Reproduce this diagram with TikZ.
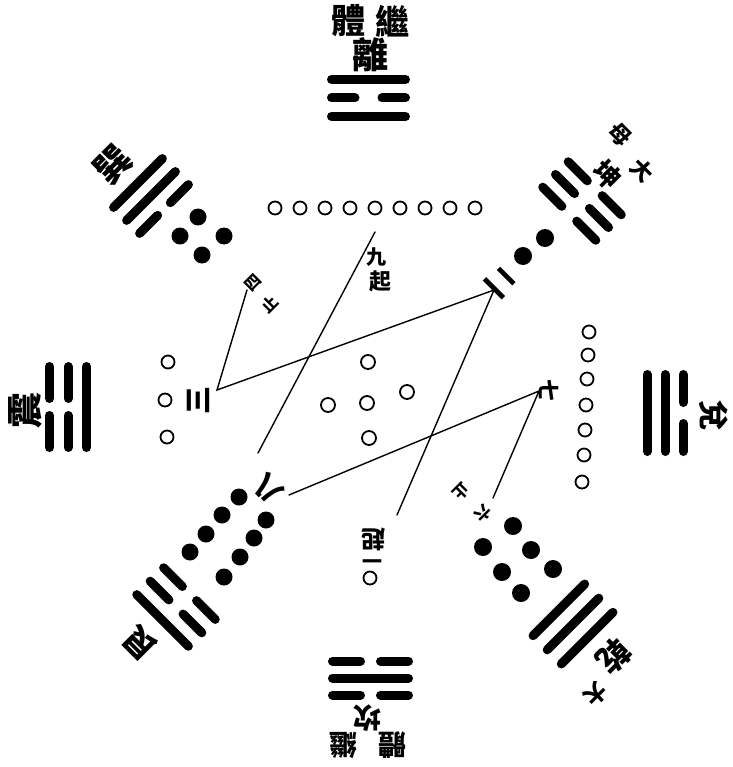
\documentclass[tikz,border=0pt]{standalone}
\usepackage{fontspec}
\newfontfamily\cjk{Noto Sans CJK TC}
\tikzset{
  bar/.style={line width=9pt, line cap=round},
  yin/.style={fill=black},
  yang/.style={draw=black, line width=1.8pt, fill=white},
  route/.style={line width=1.4pt, line cap=round},
  lab/.style={font=\cjk\bfseries\fontsize{#1}{#1}\selectfont, inner sep=0pt},
}
\newcommand\gualine[4]{%
  \ifnum#4=1
    \draw[bar] (-#2+4.5,#1) -- (#2-4.5,#1);
  \else
    \draw[bar] (-#2+4.5,#1) -- (-#3/2-4.5,#1);
    \draw[bar] (#3/2+4.5,#1) -- (#2-4.5,#1);
  \fi}
\newcommand\gua[9]{%
  \begin{scope}[shift={(#1,#2)},rotate=#3]
    \gualine{#4}{#5}{#6}{#7}
    \gualine{0}{#5}{#6}{#8}
    \gualine{-#4}{#5}{#6}{#9}
  \end{scope}}
\begin{document}
\begin{tikzpicture}[x=1pt,y=-1pt]
\useasboundingbox (0,0) rectangle (732,767);
% ---- trigrams (inner, middle, outer; 1 = solid, 0 = broken)
\gua{368.5}{98}{0}{18.5}{41.5}{18}{1}{0}{1}     % li
\gua{582}{201}{-45}{18}{42}{12}{0}{0}{0}        % kun
\gua{665}{413}{-90}{18}{43}{12}{1}{1}{0}        % dui
\gua{573}{624}{-135}{20}{41}{10}{1}{1}{1}       % qian
\gua{370.5}{678}{180}{17}{42.5}{11}{0}{1}{0}    % kan
\gua{176}{607}{135}{19}{41}{11}{0}{0}{1}        % gen
\gua{68}{407}{90}{18.5}{45}{8}{1}{0}{0}         % zhen
\gua{151}{196}{45}{18.4}{39}{9}{0}{1}{1}        % xun
% ---- black dots
\foreach \p in {(545,238),(523,256)} \fill[yin] \p circle (9pt);
\foreach \p in {(198,217),(180,236),(224,236),(202,255)} \fill[yin] \p circle (8.5pt);
\foreach \p in {(239,497),(222,515),(206,534),(190,552),(266,520),(254,538),(240,557),(224,577)} \fill[yin] \p circle (8.5pt);
\foreach \p in {(513,526),(483,547),(531,550),(502,572),(553,569),(521,593)} \fill[yin] \p circle (9pt);
% ---- white circles
\foreach \i in {0,...,8} \draw[yang] (275+25*\i,208) circle (6.5pt);
\foreach \p in {(168,362),(165,400),(167,437)} \draw[yang] \p circle (6.5pt);
\foreach \p in {(589,332),(588,355),(587,379),(586,405),(585,430),(584,455),(582,482)} \draw[yang] \p circle (6.5pt);
\foreach \p in {(368,362),(328,405),(367,403),(407,392),(369,438)} \draw[yang] \p circle (7pt);
\draw[yang] (370,578) circle (6.5pt);
% ---- trigram labels
\node[lab=34] (ti) at (348,21) {體};
\node[lab=34] (ji) at (392,21) {繼};
\node[lab=36] (li) at (370,55) {離};
\node[lab=28,rotate=180] (kan) at (367,718) {坎};
\node[lab=28,rotate=180] (jib) at (343,745) {繼};
\node[lab=28,rotate=180] (tib) at (392,745) {體};
\node[lab=36,rotate=90] (zhen) at (25,410) {震};
\node[lab=30,rotate=-90] (dui) at (714,415) {兌};
\node[lab=36,rotate=45] (xun) at (113,165) {巽};
\node[lab=32,rotate=135] (gen) at (140,643) {艮};
\node[lab=22,rotate=-45] (mu) at (620,135) {母};
\node[lab=27,rotate=-45] (kun) at (607,175) {坤};
\node[lab=22,rotate=-45] (dak) at (642,170) {大};
\node[lab=32,rotate=-135] (qian) at (614,656) {乾};
\node[lab=22,rotate=-135] (daq) at (596,694) {大};
% ---- number marks
\node[lab=20] (jiu) at (376,257) {九};
\node[lab=22] (qi9) at (380,281) {起};
\node[lab=16,rotate=45] (si) at (253,283) {四};
\node[lab=16,rotate=45] (zhi4) at (270,304) {止};
\node[lab=28,rotate=90] (san) at (198,400) {三};
\node[lab=30,rotate=-45] (er) at (501,283) {二};
\node[lab=28,rotate=135] (ba) at (268,489) {八};
\node[lab=22,rotate=-90] (qi7) at (549,390) {七};
\node[lab=16,rotate=-135] (liu) at (483,514) {六};
\node[lab=16,rotate=-135] (zhi6) at (461,492) {止};
\node[lab=24,rotate=180] (qi1) at (373,539) {起};
\node[lab=20,rotate=180] (yi) at (372,558) {一};
% ---- route
\coordinate (a9) at (375,232);
\coordinate (a8) at (258,453);
\coordinate (b8) at (289,495);
\coordinate (a7) at (539,391);
\coordinate (a6) at (493,498);
\coordinate (a1) at (397,515);
\coordinate (a2) at (494,290);
\coordinate (a3) at (217,390);
\coordinate (a4) at (247,290);
\draw[route] (a9) -- (a8);
\draw[route] (b8) -- (a7) -- (a6);
\draw[route] (a1) -- (a2) -- (a3) -- (a4);
\end{tikzpicture}
\end{document}
